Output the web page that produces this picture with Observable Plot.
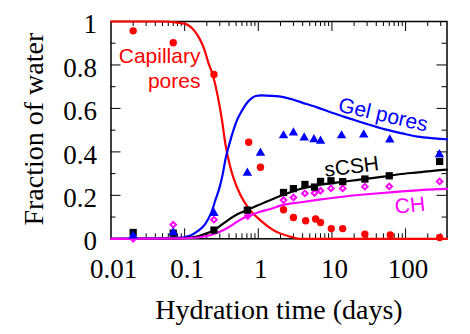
<!DOCTYPE html>
<html><head><meta charset="utf-8">
<script src="https://cdn.jsdelivr.net/npm/d3@7"></script>
<script src="https://cdn.jsdelivr.net/npm/@observablehq/plot@0.6"></script>
<style>body{margin:0;background:#fff}</style>
</head><body><div id="chart"></div>
<script>
// ---- data (time in days, fraction of water) ----
const capillaryCurve = [[0.01,1],[0.05,1],[0.08,0.995],[0.1,0.99],[0.135,0.958],[0.16,0.92],[0.184,0.874],[0.21,0.81],[0.24,0.756],[0.28,0.66],[0.32,0.55],[0.36,0.43],[0.41,0.34],[0.46,0.28],[0.575,0.2],[0.74,0.14],[1.07,0.085],[1.6,0.04],[2.7,0.01],[3.6,0],[365,0]];
const gelCurve = [[0.01,0],[0.08,0.004],[0.12,0.015],[0.15,0.035],[0.19,0.068],[0.23,0.12],[0.26,0.175],[0.3,0.24],[0.33,0.3],[0.36,0.37],[0.4,0.43],[0.46,0.5],[0.52,0.55],[0.6,0.59],[0.7,0.625],[0.8,0.645],[0.92,0.657],[1.1,0.66],[1.5,0.658],[2.2,0.652],[3,0.64],[4.5,0.62],[6.3,0.605],[10,0.58],[18,0.552],[30,0.528],[51,0.505],[90,0.485],[145,0.47],[250,0.462],[365,0.458]];
const sCSHCurve = [[0.01,0],[0.08,0.002],[0.12,0.006],[0.16,0.014],[0.2,0.025],[0.25,0.04],[0.3,0.058],[0.38,0.084],[0.52,0.113],[0.7,0.132],[0.97,0.153],[1.47,0.179],[2.1,0.2],[3.6,0.228],[6,0.245],[10,0.256],[17,0.266],[30,0.277],[50,0.286],[82,0.297],[150,0.306],[250,0.314],[365,0.318]];
const chCurve = [[0.01,0],[0.1,0.002],[0.15,0.006],[0.2,0.013],[0.25,0.022],[0.3,0.032],[0.38,0.05],[0.45,0.065],[0.55,0.085],[0.7,0.103],[0.85,0.112],[1.0,0.122],[1.47,0.137],[2.1,0.155],[3.6,0.167],[6.7,0.18],[17,0.197],[30,0.205],[82,0.217],[200,0.226],[365,0.23]];

const capillaryPoints = [[0.02,0.957],[0.07,0.902],[0.25,0.756],[0.74,0.444],[1.07,0.329],[2.2,0.134],[3,0.098],[4.4,0.083],[6,0.091],[7,0.075],[9.8,0.047],[14,0.047],[28,0.021],[62,0.018],[290,0.006]];
const gelPoints = [[0.02,0.014],[0.07,0.029],[0.25,0.118],[0.71,0.303],[1.07,0.395],[2.2,0.475],[3,0.488],[4.2,0.465],[5.7,0.457],[7,0.45],[13.5,0.475],[27,0.479],[61,0.456],[288,0.388]];
const sCSHPoints = [[0.02,0.029],[0.07,0.026],[0.25,0.04],[0.71,0.132],[2.2,0.213],[3,0.231],[4.3,0.25],[5.8,0.238],[7,0.264],[9.7,0.267],[14,0.263],[28,0.275],[60,0.29],[290,0.356]];
const chPoints = [[0.02,0.0],[0.07,0.065],[0.25,0.088],[0.72,0.105],[2.2,0.178],[3,0.19],[4.3,0.209],[5.8,0.211],[7,0.221],[9.7,0.232],[14,0.232],[28,0.24],[60,0.241],[290,0.264]];

const xTickValues = [0.01, 0.1, 1, 10, 100];
const xTickLabels = ["0.01", "0.1", "1", "10", "100"];
const xMinorTicks = [0.02,0.03,0.04,0.05,0.06,0.07,0.08,0.09,0.2,0.3,0.4,0.5,0.6,0.7,0.8,0.9,2,3,4,5,6,7,8,9,20,30,40,50,60,70,80,90,200,300];
const xMajorTicks = [0.1, 1, 10, 100];
const yTickValues = [0, 0.2, 0.4, 0.6, 0.8, 1];
const yTickLabels = ["0", "0.2", "0.4", "0.6", "0.8", "1"];
const yMinorTicks = [0.1, 0.3, 0.5, 0.7, 0.9];
const yMajorTicks = [0.2, 0.4, 0.6, 0.8];

const xLabel = "Hydration time (days)";
const yLabel = "Fraction of water";
const annotations = [
  {t: 0.164, v: 0.692, text: "Capillary\npores", color: "#ff0000", rotate: 0, anchor: "end", line: "bottom"},
  {t: 50, v: 0.577, text: "Gel pores", color: "#0000ff", rotate: 13, anchor: "middle", line: "middle"},
  {t: 18.4, v: 0.338, text: "sCSH", color: "#000000", rotate: -7, anchor: "middle", line: "middle"},
  {t: 114, v: 0.16, text: "CH", color: "#ff00ff", rotate: -6, anchor: "middle", line: "middle"}
];

// ---- layout ----
const W = 470, H = 334, mL = 110.5, mR = 23.5, mT = 21, mB = 95.7;
const ph = H - mT - mB, pw = W - mL - mR;
const rows = a => a.map(([t, v]) => ({t, v}));
const serif = "'Liberation Serif', 'Times New Roman', serif";
const sans = "'Liberation Sans', Arial, Helvetica, sans-serif";
const RED = "#ff0000", BLUE = "#0000ff", BLACK = "#000000", MAG = "#ff00ff";
const lw = 2.2;

const marks = [
  // frame
  Plot.frame({stroke: BLACK, strokeWidth: 1.5}),
  // ticks (inside, mirrored)
  Plot.tickX(xMinorTicks, {x: d => d, insetTop: ph - 5, stroke: BLACK, strokeWidth: 1}),
  Plot.tickX(xMinorTicks, {x: d => d, insetBottom: ph - 5, stroke: BLACK, strokeWidth: 1}),
  Plot.tickX(xMajorTicks, {x: d => d, insetTop: ph - 10, stroke: BLACK, strokeWidth: 1}),
  Plot.tickX(xMajorTicks, {x: d => d, insetBottom: ph - 10, stroke: BLACK, strokeWidth: 1}),
  Plot.tickY(yMinorTicks, {y: d => d, insetRight: pw - 5, stroke: BLACK, strokeWidth: 1}),
  Plot.tickY(yMinorTicks, {y: d => d, insetLeft: pw - 5, stroke: BLACK, strokeWidth: 1}),
  Plot.tickY(yMajorTicks, {y: d => d, insetRight: pw - 10, stroke: BLACK, strokeWidth: 1}),
  Plot.tickY(yMajorTicks, {y: d => d, insetLeft: pw - 10, stroke: BLACK, strokeWidth: 1}),
  // curves
  Plot.line(rows(capillaryCurve), {x: "t", y: "v", stroke: RED, strokeWidth: lw, curve: "monotone-x"}),
  Plot.line(rows(gelCurve), {x: "t", y: "v", stroke: BLUE, strokeWidth: lw, curve: "monotone-x"}),
  Plot.line(rows(sCSHCurve), {x: "t", y: "v", stroke: BLACK, strokeWidth: lw, curve: "monotone-x"}),
  Plot.line(rows(chCurve), {x: "t", y: "v", stroke: MAG, strokeWidth: lw, curve: "monotone-x"}),
  // points
  Plot.dot(rows(chPoints), {x: "t", y: "v", symbol: "diamond2", r: 2.5, stroke: MAG, strokeWidth: 2, fill: "none"}),
  Plot.dot(rows(sCSHPoints), {x: "t", y: "v", symbol: "square", r: 4.1, fill: BLACK, stroke: "none"}),
  Plot.dot(rows(gelPoints), {x: "t", y: "v", symbol: "triangle", r: 3.5, fill: BLUE, stroke: "none"}),
  Plot.dot(rows(capillaryPoints), {x: "t", y: "v", symbol: "circle", r: 3.7, fill: RED, stroke: "none"}),
  // tick labels
  Plot.text(xTickValues, {x: d => d, frameAnchor: "bottom", dy: 20, dx: 2.5, lineAnchor: "top", textAnchor: "middle",
    text: (d, i) => xTickLabels[i], fontSize: 27, fontFamily: serif, fill: BLACK}),
  Plot.text(yTickValues, {y: d => d, frameAnchor: "left", dx: -14, dy: 3, lineAnchor: "middle", textAnchor: "end",
    text: (d, i) => yTickLabels[i], fontSize: 27, fontFamily: serif, fill: BLACK}),
  // axis titles
  Plot.text([xLabel], {frameAnchor: "bottom", dy: 79.7, lineAnchor: "bottom", textAnchor: "middle", text: d => d,
    fontSize: 28, fontFamily: serif, fill: BLACK}),
  Plot.text([yLabel], {frameAnchor: "left", dx: -68.5, dy: -1, rotate: -90, lineAnchor: "bottom", textAnchor: "middle", text: d => d,
    fontSize: 28, fontFamily: serif, fill: BLACK}),
  // annotations
  ...annotations.map(a => Plot.text([a], {x: "t", y: "v", text: "text", fill: a.color, rotate: a.rotate,
    textAnchor: a.anchor, lineAnchor: a.line, lineHeight: 1.22, fontSize: 21, fontFamily: sans}))
];

const chart = Plot.plot({
  width: W, height: H,
  marginLeft: mL, marginRight: mR, marginTop: mT, marginBottom: mB,
  x: {type: "log", domain: [0.01, 365], axis: null},
  y: {domain: [0, 1], axis: null},
  style: {background: "#fff", overflow: "visible"},
  marks
});
document.getElementById("chart").appendChild(chart);
</script>
</body></html>
